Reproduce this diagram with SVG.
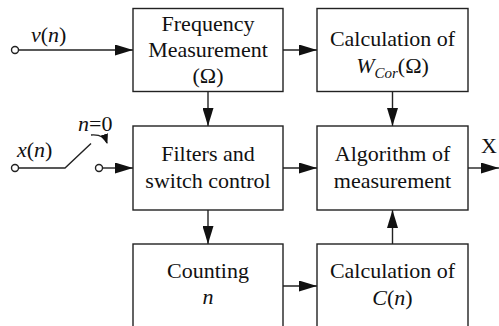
<svg xmlns="http://www.w3.org/2000/svg" width="499" height="326" viewBox="0 0 499 326" font-family="Liberation Serif">
<defs>
<marker id="ah" viewBox="0 0 18 11" refX="18" refY="5.5" markerWidth="18" markerHeight="11" markerUnits="userSpaceOnUse" orient="auto">
<path d="M0,0 L18,5.5 L0,11 Z" fill="#111"/>
</marker>
<marker id="ahs" viewBox="0 0 10 8" refX="9" refY="4" markerWidth="10" markerHeight="8" markerUnits="userSpaceOnUse" orient="auto">
<path d="M0,0 L10,4 L0,8 Z" fill="#111"/>
</marker>
</defs>
<rect width="499" height="326" fill="#fff"/>
<g id="connectors" fill="none" stroke="#222" stroke-width="1.4">
<line x1="18.5" y1="50" x2="133" y2="50" marker-end="url(#ah)"/>
<line x1="283" y1="50" x2="317" y2="50" marker-end="url(#ah)"/>
<line x1="208" y1="91.5" x2="208" y2="126" marker-end="url(#ah)"/>
<line x1="392.5" y1="91.5" x2="392.5" y2="126" marker-end="url(#ah)"/>
<polyline points="18.5,168 65,168 91,143.5"/>
<line x1="102.5" y1="168" x2="133" y2="168" marker-end="url(#ah)"/>
<line x1="283" y1="168" x2="317" y2="168" marker-end="url(#ah)"/>
<line x1="468" y1="168" x2="499" y2="168" marker-end="url(#ah)"/>
<line x1="208" y1="210" x2="208" y2="244" marker-end="url(#ah)"/>
<line x1="283" y1="286" x2="317" y2="286" marker-end="url(#ah)"/>
<line x1="392.5" y1="244" x2="392.5" y2="210" marker-end="url(#ah)"/>
<path d="M91,135 Q104,134 107,143" marker-end="url(#ahs)"/>
<circle cx="15" cy="50" r="3.5" fill="#fff"/>
<circle cx="15" cy="168" r="3.5" fill="#fff"/>
<circle cx="99" cy="168" r="3.5" fill="#fff"/>
</g>
<g id="labels" fill="#111">
<text x="31" y="42" font-family="Liberation Serif" font-size="22"><tspan font-style="italic">v</tspan>(<tspan font-style="italic">n</tspan>)</text>
<text x="17" y="157" font-family="Liberation Serif" font-size="22"><tspan font-style="italic">x</tspan>(<tspan font-style="italic">n</tspan>)</text>
<text x="78" y="131" font-family="Liberation Serif" font-size="22"><tspan font-style="italic">n</tspan>=0</text>
<text x="481" y="153" font-family="Liberation Serif" font-size="22">X</text>
</g>
<g id="freq" fill="#111">
<rect x="133" y="8.5" width="150" height="83" fill="#fff" stroke="#222" stroke-width="1.4"/>
<text x="208" y="31" text-anchor="middle" font-family="Liberation Serif" font-size="22">Frequency</text>
<text x="208" y="57" text-anchor="middle" font-family="Liberation Serif" font-size="22">Measurement</text>
<text x="208" y="83" text-anchor="middle" font-family="Liberation Serif" font-size="22">(&#937;)</text>
</g>
<g id="wcor" fill="#111">
<rect x="317" y="8.5" width="151" height="83" fill="#fff" stroke="#222" stroke-width="1.4"/>
<text x="392.5" y="46" text-anchor="middle" font-family="Liberation Serif" font-size="22">Calculation of</text>
<text x="392.5" y="73" text-anchor="middle" font-family="Liberation Serif" font-size="22"><tspan font-style="italic">W</tspan><tspan font-style="italic" font-size="15" dy="5">Cor</tspan><tspan dy="-5">(&#937;)</tspan></text>
</g>
<g id="filters" fill="#111">
<rect x="133" y="126" width="150" height="84" fill="#fff" stroke="#222" stroke-width="1.4"/>
<text x="208" y="161" text-anchor="middle" font-family="Liberation Serif" font-size="22">Filters and</text>
<text x="208" y="188" text-anchor="middle" font-family="Liberation Serif" font-size="22">switch control</text>
</g>
<g id="algo" fill="#111">
<rect x="317" y="126" width="151" height="84" fill="#fff" stroke="#222" stroke-width="1.4"/>
<text x="392.5" y="161" text-anchor="middle" font-family="Liberation Serif" font-size="22">Algorithm of</text>
<text x="392.5" y="188" text-anchor="middle" font-family="Liberation Serif" font-size="22">measurement</text>
</g>
<g id="counting" fill="#111">
<rect x="133" y="244" width="150" height="95" fill="#fff" stroke="#222" stroke-width="1.4"/>
<text x="208" y="278" text-anchor="middle" font-family="Liberation Serif" font-size="22">Counting</text>
<text x="208" y="304" text-anchor="middle" font-family="Liberation Serif" font-size="22" font-style="italic">n</text>
</g>
<g id="calcc" fill="#111">
<rect x="317" y="244" width="151" height="95" fill="#fff" stroke="#222" stroke-width="1.4"/>
<text x="392.5" y="278" text-anchor="middle" font-family="Liberation Serif" font-size="22">Calculation of</text>
<text x="392.5" y="305" text-anchor="middle" font-family="Liberation Serif" font-size="22"><tspan font-style="italic">C</tspan>(<tspan font-style="italic">n</tspan>)</text>
</g>
</svg>
